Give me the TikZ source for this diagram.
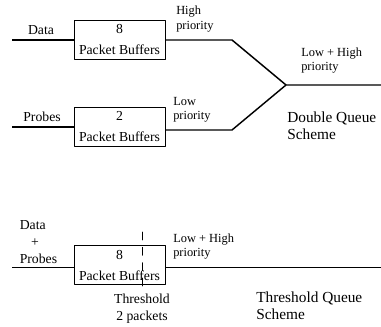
\documentclass[tikz,border=0pt]{standalone}
\usepackage{fontspec}
\setmainfont{Liberation Serif}
\usetikzlibrary{positioning}
\newcommand*\bufsize{\fontsize{10.3}{15.75}\selectfont}
\newcommand*\tagsize{\fontsize{9.3}{10.8}\selectfont}
\newcommand*\schemesize{\fontsize{11.5}{12.75}\selectfont}

\begin{document}
\begin{tikzpicture}[x=0.75pt,y=-0.75pt,line cap=round,line join=round,
  buf/.style={draw,line width=0.5pt,minimum width=68.25pt,minimum height=29.25pt,
    inner sep=0pt,align=center,font=\bufsize},
  sig/.style={line width=1.1pt,line cap=butt},
  txt/.style={inner sep=0pt,align=center,font=\bufsize},
  tag/.style={inner sep=0pt,align=left,anchor=west,font=\tagsize},
  scheme/.style={inner sep=0pt,align=left,anchor=west,font=\schemesize}]
\useasboundingbox (0,0) rectangle (381,327);

% double queue
\node[buf] (hibuf) at (119.5,40) {8\\Packet Buffers};
\node[buf] (lobuf) at (119.5,127) {2\\Packet Buffers};
\coordinate (datain) at (12,40);
\coordinate (probein) at (12,127);
\coordinate (hibend) at (232,40);
\coordinate (lobend) at (232,130);
\coordinate (merge) at (286,85);
\coordinate (mergeout) at (381,85);
\draw[sig] (datain) -- (hibuf.west);
\draw[sig] (probein) -- (lobuf.west);
\draw[sig] (hibuf.east) -- (hibend) -- (merge) -- (mergeout);
\draw[sig] ([yshift=-2.25pt]lobuf.east) -- (lobend) -- (merge);

\node[txt] (datalbl) at (41,30) {Data};
\node[txt] (probelbl) at (42,117) {Probes};
\node[tag] (hilbl) at (176,19) {High\\priority};
\node[tag] (lolbl) at (173,110) {Low\\priority};
\node[tag] (bothlbl) at (301,60.5) {Low + High\\priority};
\node[scheme] (dqlbl) at (287,125.5) {Double Queue\\Scheme};

% threshold queue
\node[buf] (thbuf) at (119.5,265) {8\\Packet Buffers};
\coordinate (mixin) at (12,267.5);
\coordinate (mixout) at (381,267.5);
\draw[sig] (mixin) -- (mixin-|thbuf.west);
\draw[sig] (mixout-|thbuf.east) -- (mixout);
\coordinate (thtop) at (142,232);
\coordinate (thbot) at (142,289);
\draw[line width=0.5pt,dash pattern=on 6pt off 5.5pt] (thtop) -- (thbot);

\node[txt,align=left,anchor=west,font=\fontsize{10.3}{12.75}\selectfont] (mixlbl) at (19.5,242) {Data\\\hspace{8.5pt}+\\Probes};
\node[tag] (thlbl) at (173,246.5) {Low + High\\priority};
\node[txt,font=\fontsize{10.3}{12.75}\selectfont] (threshlbl) at (142,308.5) {Threshold\\2 packets};
\node[scheme] (tqlbl) at (256,305.5) {Threshold Queue\\Scheme};
\end{tikzpicture}
\end{document}
